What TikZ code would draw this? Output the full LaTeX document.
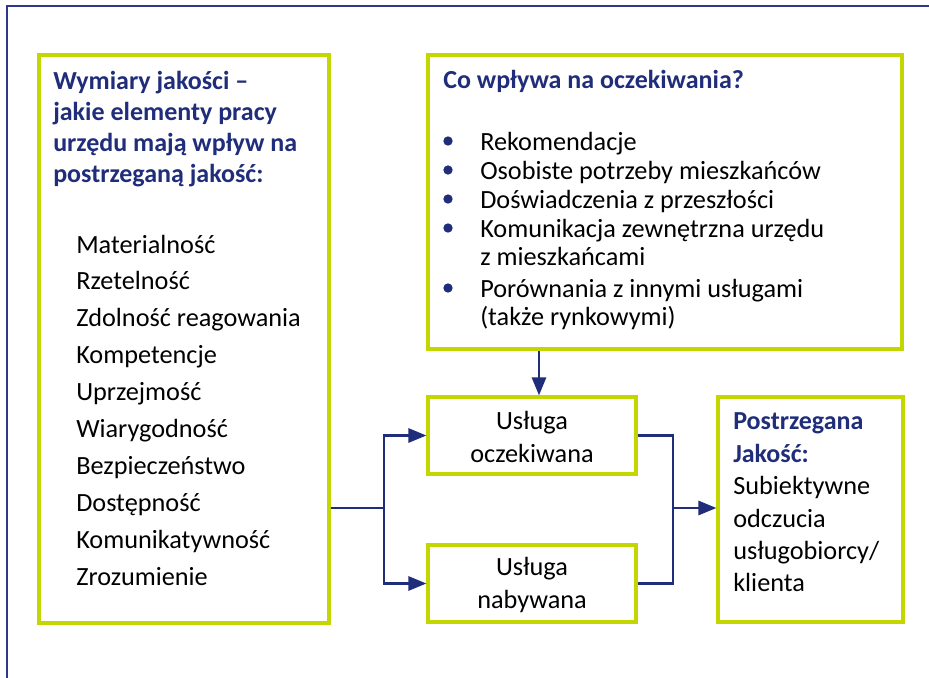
\documentclass[tikz,border=0pt]{standalone}
\usepackage{fontspec}
\setmainfont{Carlito}
\usetikzlibrary{arrows.meta,fit}
\definecolor{navy}{RGB}{31,45,122}
\definecolor{lime}{RGB}{196,214,0}
\definecolor{framec}{RGB}{46,56,135}
\tikzset{
  gbox/.style={draw=lime, line width=2.3pt, inner sep=0pt, rectangle},
  conn/.style={draw=navy, line width=2pt},
  arr/.style={conn, -{Triangle[length=13.5pt,width=10.5pt]}},
  txt/.style={inner sep=0pt, font=\fontsize{19.7}{24.3}\selectfont, text=black},
  ttl/.style={txt, font=\fontsize{19.5}{24}\selectfont\bfseries, text=navy},
  bul/.style={circle, fill=navy, inner sep=0pt, minimum size=7pt},
}
\begin{document}
\begin{tikzpicture}[x=0.75pt,y=-0.75pt]
\useasboundingbox (0,0) rectangle (929,678);
% outer frame (open on right and bottom)
\draw[framec, line width=1.6pt] (7,678) -- (7,6) -- (929,6);

% boxes
\node[gbox, fit={(39,55) (329,623)}] (L) {};
\node[gbox, fit={(428,55) (902,349)}] (T) {};
\node[gbox, fit={(428,397) (636,474)}] (E) {};
\node[gbox, fit={(428,545) (636,622)}] (N) {};
\node[gbox, fit={(718,397) (903,622)}] (P) {};

% left box title
\foreach \t [count=\i from 0] in {Wymiary jakości –, jakie elementy pracy, urzędu mają wpływ na, postrzeganą jakość:}
  \node[ttl, anchor=base west] (lt\i) at (53,{89+31*\i}) {\t};
% left list
\foreach \t [count=\i from 0] in {Materialność, Rzetelność, Zdolność reagowania, Kompetencje, Uprzejmość, Wiarygodność, Bezpieczeństwo, Dostępność, Komunikatywność, Zrozumienie}
  \node[txt, anchor=base west] (li\i) at (76,{253+36.9*\i}) {\t};

% top right box
\node[ttl, anchor=base west] (tt) at (443,88) {Co wpływa na oczekiwania?};
\foreach \t/\y [count=\i] in {Rekomendacje/150, Osobiste potrzeby mieszkańców/179, Doświadczenia z przeszłości/208, Komunikacja zewnętrzna urzędu/237, Porównania z innymi usługami/297}
  {\node[bul] (b\i) at (448,{\y-9}) {};
   \node[txt, anchor=base west] (ti\i) at (480,\y) {\t};}
\node[txt, anchor=base west] (tc1) at (480,265) {z mieszkańcami};
\node[txt, anchor=base west] (tc2) at (480,325) {(także rynkowymi)};

% service boxes
\node[txt, align=center] (et) at ([yshift=-1pt]E.center) {Usługa\\oczekiwana};
\node[txt, align=center] (nt) at ([yshift=-1pt]N.center) {Usługa\\nabywana};

% perceived quality
\node[ttl, anchor=base west] (p1) at (733,429) {Postrzegana};
\node[ttl, anchor=base west] (p2) at (733,462) {Jakość:};
\foreach \t/\y [count=\i from 3] in {Subiektywne/494, odczucia/527, usługobiorcy\slash/559, klienta/591}
  \node[txt, anchor=base west] (p\i) at (733,\y) {\t};

% connectors
\coordinate (j1) at (384,508);
\coordinate (j2) at (673,508);
\coordinate (d) at (539,0);
\draw[conn] (j1 -| L.east) -- (j1);
\draw[arr] (j1) |- (E.west);
\draw[arr] (j1) |- (N.west);
\draw[conn] (E.east) -| (j2) |- (N.east);
\draw[arr] (j2) -- (j2 -| P.west);
\draw[arr] (d |- T.south) -- (d |- E.north);
\end{tikzpicture}
\end{document}
